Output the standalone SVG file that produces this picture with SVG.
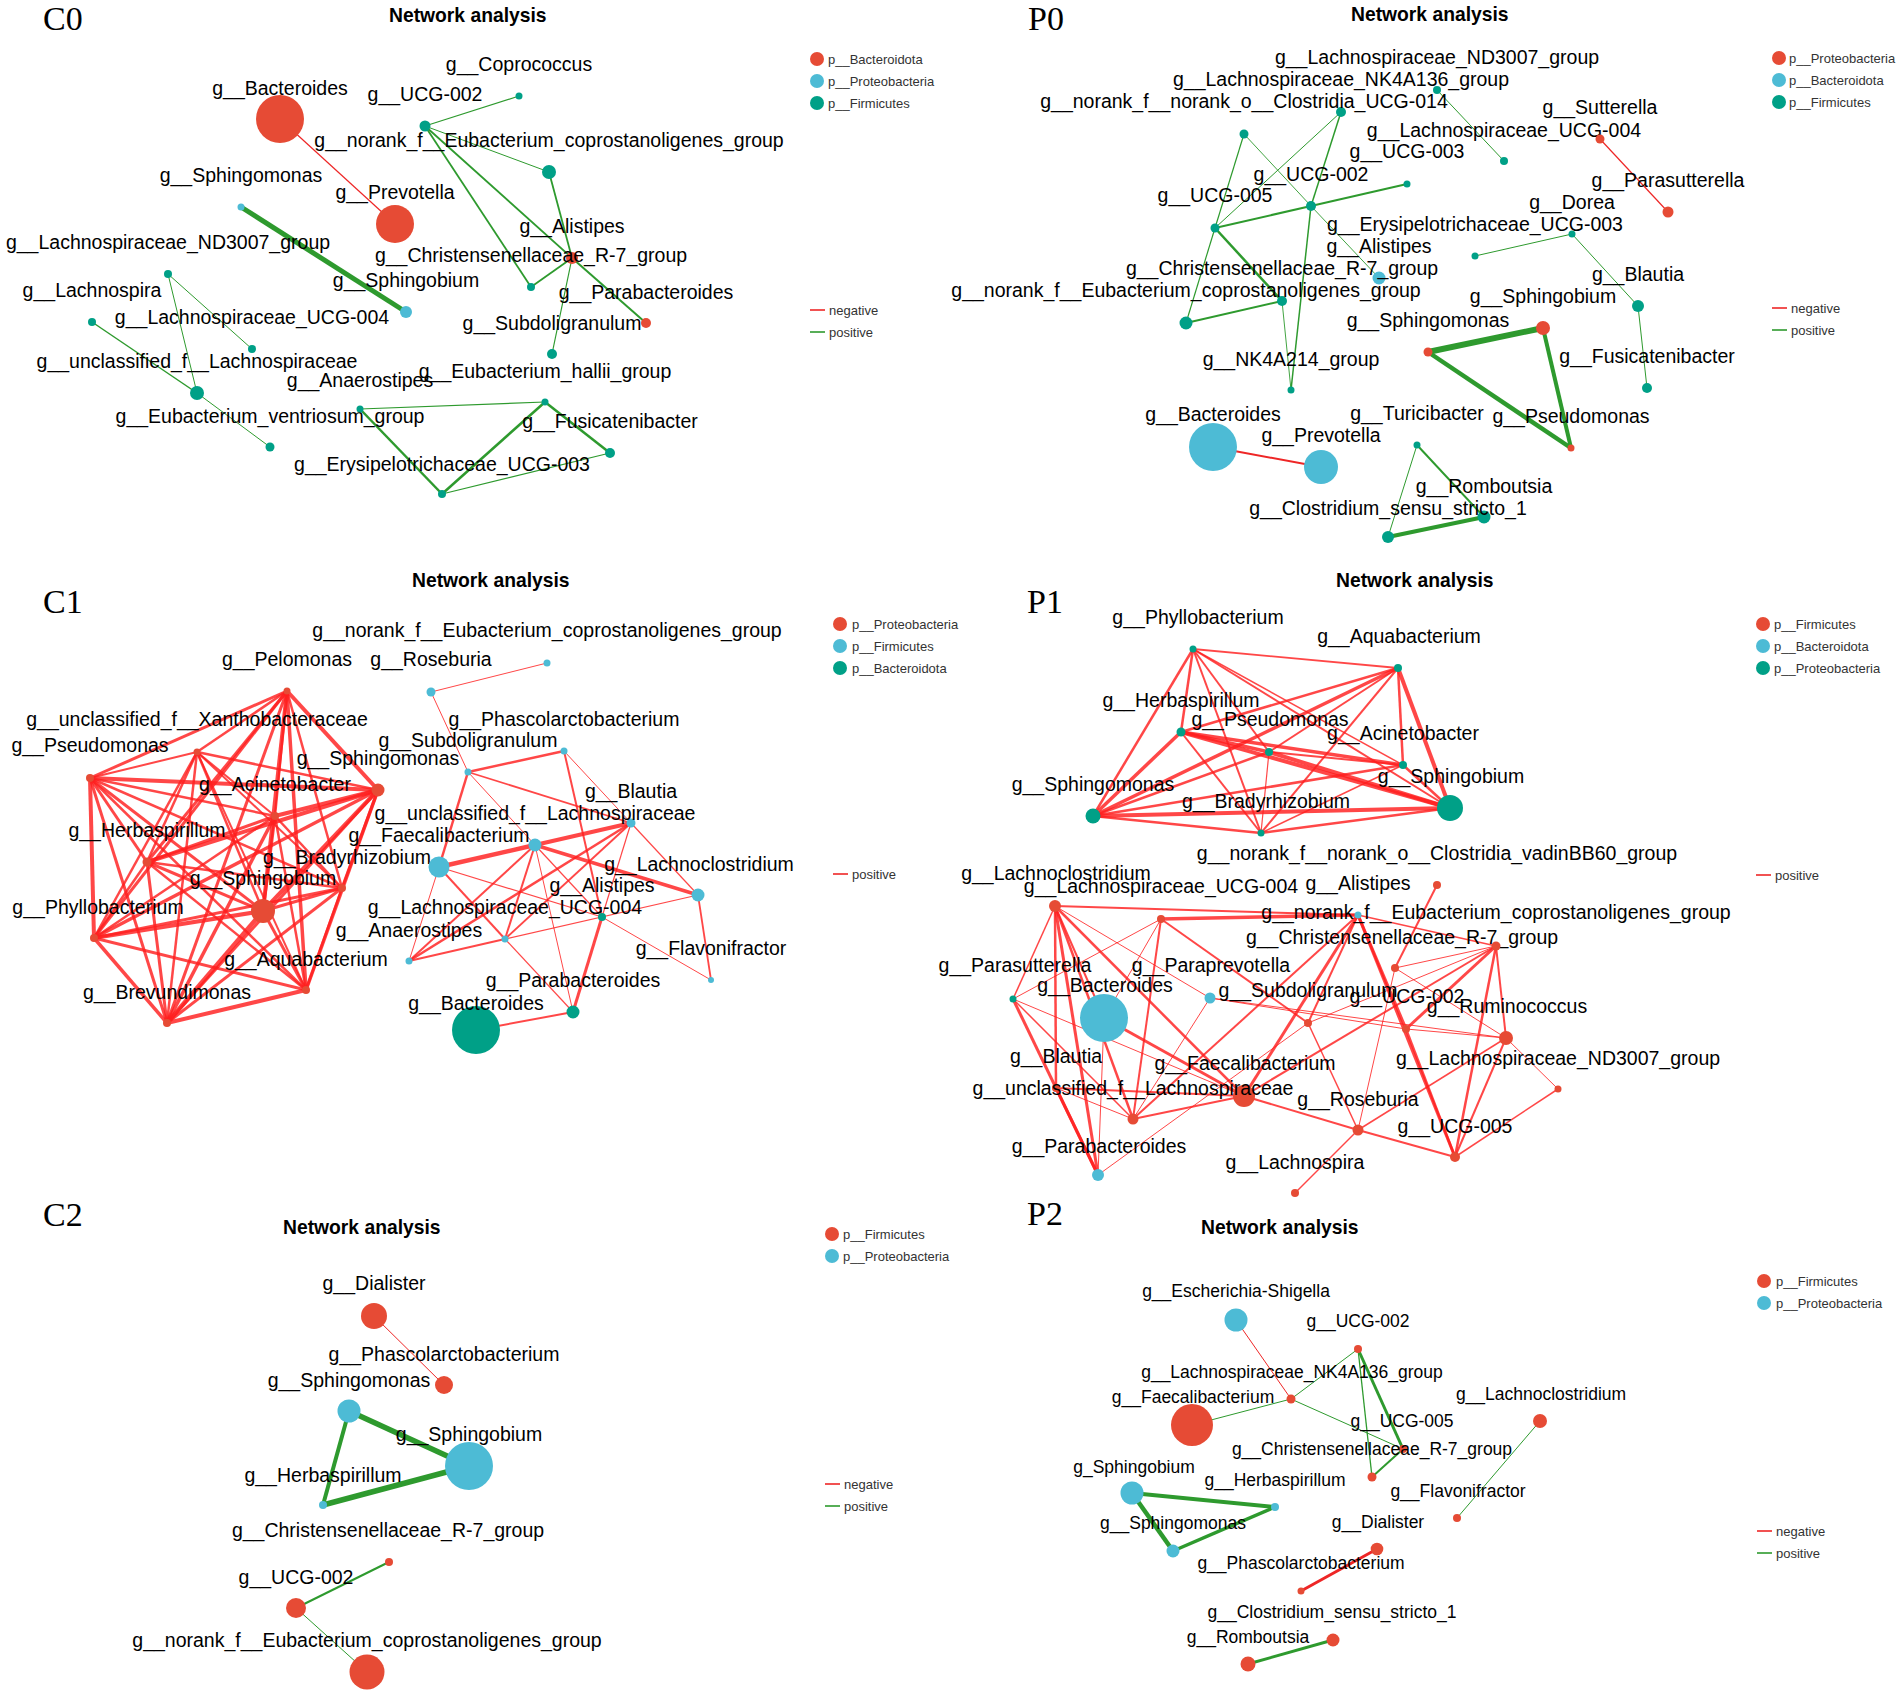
<svg xmlns="http://www.w3.org/2000/svg" width="1902" height="1696" viewBox="0 0 1902 1696">
<style>
.r{fill:#E64B35}.b{fill:#4DBBD5}.t{fill:#00A087}
.pos{stroke:#2E9A2E;fill:none}
.neg{stroke:#EE2626;fill:none}
.pr{stroke:#FF1E1E;stroke-opacity:0.82;fill:none}
text{font-family:"Liberation Sans",Arial,Helvetica,sans-serif;fill:#000}
.lb{font-size:19.5px;text-anchor:middle}
.lb2{font-size:17.5px;text-anchor:middle}
.ti{font-size:19.3px;font-weight:bold}
.pl{font-family:"Liberation Serif","Times New Roman",serif;font-size:34px}
.lg{font-size:13px;fill:#333}
.ll{stroke-width:1.6}
</style>
<rect width="1902" height="1696" fill="#fff"/>

<!-- ============ C0 ============ -->
<g id="C0">
<text class="pl" x="43" y="30">C0</text>
<text class="ti" x="389" y="22">Network analysis</text>
<g id="C0-connectors">
<line class="neg" x1="280" y1="119" x2="395" y2="224" stroke-width="1.2"/>
<line class="pos" x1="241" y1="207" x2="406" y2="312" stroke-width="5"/>
<line class="pos" x1="168" y1="274" x2="252" y2="349" stroke-width="1"/>
<line class="pos" x1="168" y1="274" x2="197" y2="393" stroke-width="1"/>
<line class="pos" x1="92" y1="322" x2="197" y2="393" stroke-width="1.5"/>
<line class="pos" x1="197" y1="393" x2="270" y2="447" stroke-width="1"/>
<line class="pos" x1="425" y1="126" x2="519" y2="96" stroke-width="1.2"/>
<line class="pos" x1="425" y1="126" x2="549" y2="172" stroke-width="1"/>
<line class="pos" x1="425" y1="126" x2="531" y2="287" stroke-width="1.8"/>
<line class="pos" x1="425" y1="126" x2="572" y2="258" stroke-width="1.8"/>
<line class="pos" x1="549" y1="172" x2="572" y2="258" stroke-width="1.8"/>
<line class="pos" x1="531" y1="287" x2="572" y2="258" stroke-width="1.8"/>
<line class="pos" x1="572" y1="258" x2="646" y2="323" stroke-width="2"/>
<line class="pos" x1="572" y1="258" x2="552" y2="354" stroke-width="1.2"/>
<line class="pos" x1="360" y1="409" x2="545" y2="402" stroke-width="1.2"/>
<line class="pos" x1="360" y1="409" x2="442" y2="494" stroke-width="2.5"/>
<line class="pos" x1="442" y1="494" x2="545" y2="402" stroke-width="2.5"/>
<line class="pos" x1="545" y1="402" x2="610" y2="453" stroke-width="2.5"/>
<line class="pos" x1="442" y1="494" x2="610" y2="453" stroke-width="1.2"/>
</g>
<g id="C0-Bacteroides"><circle class="r" cx="280" cy="119" r="24"/><text class="lb" x="280" y="95">g__Bacteroides</text></g>
<g id="C0-Prevotella"><circle class="r" cx="395" cy="224" r="19"/><text class="lb" x="395" y="199">g__Prevotella</text></g>
<g id="C0-Sphingomonas"><circle class="b" cx="241" cy="207" r="3.5"/><text class="lb" x="241" y="182">g__Sphingomonas</text></g>
<g id="C0-Sphingobium"><circle class="b" cx="406" cy="312" r="6"/><text class="lb" x="406" y="287">g__Sphingobium</text></g>
<g id="C0-ND3007"><circle class="t" cx="168" cy="274" r="4"/><text class="lb" x="168" y="249">g__Lachnospiraceae_ND3007_group</text></g>
<g id="C0-Lachnospira"><circle class="t" cx="92" cy="322" r="4"/><text class="lb" x="92" y="297">g__Lachnospira</text></g>
<g id="C0-UCG004"><circle class="t" cx="252" cy="349" r="4"/><text class="lb" x="252" y="324">g__Lachnospiraceae_UCG-004</text></g>
<g id="C0-unclassified"><circle class="t" cx="197" cy="393" r="7"/><text class="lb" x="197" y="368">g__unclassified_f__Lachnospiraceae</text></g>
<g id="C0-ventriosum"><circle class="t" cx="270" cy="447" r="4.5"/><text class="lb" x="270" y="423">g__Eubacterium_ventriosum_group</text></g>
<g id="C0-Anaerostipes"><circle class="t" cx="360" cy="409" r="3.5"/><text class="lb" x="360" y="387">g__Anaerostipes</text></g>
<g id="C0-Erysipelotrichaceae"><circle class="t" cx="442" cy="494" r="4"/><text class="lb" x="442" y="471">g__Erysipelotrichaceae_UCG-003</text></g>
<g id="C0-UCG002"><circle class="t" cx="425" cy="126" r="5.5"/><text class="lb" x="425" y="101">g__UCG-002</text></g>
<g id="C0-Coprococcus"><circle class="t" cx="519" cy="96" r="3.5"/><text class="lb" x="519" y="71">g__Coprococcus</text></g>
<g id="C0-norank"><circle class="t" cx="549" cy="172" r="7"/><text class="lb" x="549" y="147">g__norank_f__Eubacterium_coprostanoligenes_group</text></g>
<g id="C0-Alistipes"><circle class="r" cx="572" cy="258" r="6"/><text class="lb" x="572" y="233">g__Alistipes</text></g>
<g id="C0-Christensenellaceae"><circle class="t" cx="531" cy="287" r="4"/><text class="lb" x="531" y="262">g__Christensenellaceae_R-7_group</text></g>
<g id="C0-Parabacteroides"><circle class="r" cx="646" cy="323" r="5"/><text class="lb" x="646" y="299">g__Parabacteroides</text></g>
<g id="C0-Subdoligranulum"><circle class="t" cx="552" cy="354" r="5"/><text class="lb" x="552" y="330">g__Subdoligranulum</text></g>
<g id="C0-hallii"><circle class="t" cx="545" cy="402" r="3.5"/><text class="lb" x="545" y="378">g__Eubacterium_hallii_group</text></g>
<g id="C0-Fusicatenibacter"><circle class="t" cx="610" cy="453" r="5"/><text class="lb" x="610" y="428">g__Fusicatenibacter</text></g>
<g id="C0-legend">
<circle class="r" cx="817" cy="59" r="7"/><text class="lg" x="828" y="63.5">p__Bacteroidota</text>
<circle class="b" cx="817" cy="81" r="7"/><text class="lg" x="828" y="85.5">p__Proteobacteria</text>
<circle class="t" cx="817" cy="103" r="7"/><text class="lg" x="828" y="107.5">p__Firmicutes</text>
<line class="neg ll" x1="810" y1="310" x2="825" y2="310"/><text class="lg" x="829" y="314.5">negative</text>
<line class="pos ll" x1="810" y1="332" x2="825" y2="332"/><text class="lg" x="829" y="336.5">positive</text>
</g>
</g>

<!-- ============ P0 ============ -->
<g id="P0">
<text class="pl" x="1028" y="30">P0</text>
<text class="ti" x="1351" y="21">Network analysis</text>
<g id="P0-connectors">
<line class="pos" x1="1437" y1="90" x2="1504" y2="161" stroke-width="1"/>
<line class="pos" x1="1341" y1="112" x2="1215" y2="228" stroke-width="1"/>
<line class="pos" x1="1341" y1="112" x2="1311" y2="206" stroke-width="1.5"/>
<line class="pos" x1="1311" y1="206" x2="1291" y2="390" stroke-width="1.5"/>
<line class="pos" x1="1244" y1="134" x2="1215" y2="228" stroke-width="1.2"/>
<line class="pos" x1="1215" y1="228" x2="1186" y2="323" stroke-width="1.2"/>
<line class="pos" x1="1244" y1="134" x2="1311" y2="206" stroke-width="0.9"/>
<line class="pos" x1="1311" y1="206" x2="1379" y2="278" stroke-width="0.9"/>
<line class="pos" x1="1215" y1="228" x2="1311" y2="206" stroke-width="2"/>
<line class="pos" x1="1311" y1="206" x2="1407" y2="184" stroke-width="2"/>
<line class="pos" x1="1215" y1="228" x2="1282" y2="301" stroke-width="2.5"/>
<line class="pos" x1="1186" y1="323" x2="1282" y2="301" stroke-width="1.8"/>
<line class="pos" x1="1282" y1="301" x2="1291" y2="390" stroke-width="0.9"/>
<line class="neg" x1="1600" y1="139" x2="1668" y2="212" stroke-width="1.2"/>
<line class="pos" x1="1475" y1="256" x2="1572" y2="234" stroke-width="1"/>
<line class="pos" x1="1572" y1="234" x2="1638" y2="306" stroke-width="1"/>
<line class="pos" x1="1638" y1="306" x2="1647" y2="388" stroke-width="1"/>
<line class="pos" x1="1428" y1="352" x2="1543" y2="328" stroke-width="6"/>
<line class="pos" x1="1428" y1="352" x2="1571" y2="448" stroke-width="4.5"/>
<line class="pos" x1="1543" y1="328" x2="1571" y2="448" stroke-width="4"/>
<line class="pos" x1="1417" y1="445" x2="1484" y2="517" stroke-width="2"/>
<line class="pos" x1="1417" y1="445" x2="1388" y2="537" stroke-width="1"/>
<line class="pos" x1="1388" y1="537" x2="1484" y2="517" stroke-width="4"/>
<line class="neg" x1="1213" y1="447" x2="1321" y2="467" stroke-width="2"/>
</g>
<g id="P0-ND3007"><circle class="t" cx="1437" cy="90" r="4"/><text class="lb" x="1437" y="64">g__Lachnospiraceae_ND3007_group</text></g>
<g id="P0-NK4A136"><circle class="t" cx="1341" cy="112" r="5"/><text class="lb" x="1341" y="86">g__Lachnospiraceae_NK4A136_group</text></g>
<g id="P0-UCG014"><circle class="t" cx="1244" cy="134" r="4.5"/><text class="lb" x="1244" y="108">g__norank_f__norank_o__Clostridia_UCG-014</text></g>
<g id="P0-UCG004"><circle class="t" cx="1504" cy="161" r="4"/><text class="lb" x="1504" y="137">g__Lachnospiraceae_UCG-004</text></g>
<g id="P0-UCG003"><circle class="t" cx="1407" cy="184" r="3.5"/><text class="lb" x="1407" y="158">g__UCG-003</text></g>
<g id="P0-UCG002"><circle class="t" cx="1311" cy="206" r="5"/><text class="lb" x="1311" y="181">g__UCG-002</text></g>
<g id="P0-UCG005"><circle class="t" cx="1215" cy="228" r="4.5"/><text class="lb" x="1215" y="202">g__UCG-005</text></g>
<g id="P0-Erysipelotrichaceae"><circle class="t" cx="1475" cy="256" r="3.5"/><text class="lb" x="1475" y="231">g__Erysipelotrichaceae_UCG-003</text></g>
<g id="P0-Dorea"><circle class="t" cx="1572" cy="234" r="3.5"/><text class="lb" x="1572" y="209">g__Dorea</text></g>
<g id="P0-Alistipes"><circle class="b" cx="1379" cy="278" r="6.5"/><text class="lb" x="1379" y="253">g__Alistipes</text></g>
<g id="P0-Christensenellaceae"><circle class="t" cx="1282" cy="301" r="5"/><text class="lb" x="1282" y="275">g__Christensenellaceae_R-7_group</text></g>
<g id="P0-norank"><circle class="t" cx="1186" cy="323" r="6.5"/><text class="lb" x="1186" y="297">g__norank_f__Eubacterium_coprostanoligenes_group</text></g>
<g id="P0-NK4A214"><circle class="t" cx="1291" cy="390" r="3.5"/><text class="lb" x="1291" y="366">g__NK4A214_group</text></g>
<g id="P0-Sutterella"><circle class="r" cx="1600" cy="139" r="4.5"/><text class="lb" x="1600" y="114">g__Sutterella</text></g>
<g id="P0-Parasutterella"><circle class="r" cx="1668" cy="212" r="5.5"/><text class="lb" x="1668" y="187">g__Parasutterella</text></g>
<g id="P0-Blautia"><circle class="t" cx="1638" cy="306" r="6"/><text class="lb" x="1638" y="281">g__Blautia</text></g>
<g id="P0-Sphingobium"><circle class="r" cx="1543" cy="328" r="7"/><text class="lb" x="1543" y="303">g__Sphingobium</text></g>
<g id="P0-Sphingomonas"><circle class="r" cx="1428" cy="352" r="4.5"/><text class="lb" x="1428" y="327">g__Sphingomonas</text></g>
<g id="P0-Fusicatenibacter"><circle class="t" cx="1647" cy="388" r="5"/><text class="lb" x="1647" y="363">g__Fusicatenibacter</text></g>
<g id="P0-Pseudomonas"><circle class="r" cx="1571" cy="448" r="3.5"/><text class="lb" x="1571" y="423">g__Pseudomonas</text></g>
<g id="P0-Turicibacter"><circle class="t" cx="1417" cy="445" r="3.5"/><text class="lb" x="1417" y="420">g__Turicibacter</text></g>
<g id="P0-Romboutsia"><circle class="t" cx="1484" cy="517" r="6.5"/><text class="lb" x="1484" y="493">g__Romboutsia</text></g>
<g id="P0-Clostridium"><circle class="t" cx="1388" cy="537" r="6"/><text class="lb" x="1388" y="515">g__Clostridium_sensu_stricto_1</text></g>
<g id="P0-Bacteroides"><circle class="b" cx="1213" cy="447" r="24"/><text class="lb" x="1213" y="421">g__Bacteroides</text></g>
<g id="P0-Prevotella"><circle class="b" cx="1321" cy="467" r="17"/><text class="lb" x="1321" y="442">g__Prevotella</text></g>
<g id="P0-legend">
<circle class="r" cx="1779" cy="58" r="7"/><text class="lg" x="1789" y="62.5">p__Proteobacteria</text>
<circle class="b" cx="1779" cy="80" r="7"/><text class="lg" x="1789" y="84.5">p__Bacteroidota</text>
<circle class="t" cx="1779" cy="102" r="7"/><text class="lg" x="1789" y="106.5">p__Firmicutes</text>
<line class="neg ll" x1="1772" y1="308" x2="1787" y2="308"/><text class="lg" x="1791" y="312.5">negative</text>
<line class="pos ll" x1="1772" y1="330" x2="1787" y2="330"/><text class="lg" x="1791" y="334.5">positive</text>
</g>
</g>

<!-- ============ C1 ============ -->
<g id="C1">
<text class="pl" x="43" y="613">C1</text>
<text class="ti" x="412" y="587">Network analysis</text>
<g id="C1-connectors">
<line class="pr" x1="287" y1="691" x2="197" y2="752" stroke-width="2.5"/>
<line class="pr" x1="287" y1="691" x2="90" y2="778" stroke-width="3"/>
<line class="pr" x1="287" y1="691" x2="378" y2="790" stroke-width="4"/>
<line class="pr" x1="287" y1="691" x2="275" y2="816" stroke-width="2.5"/>
<line class="pr" x1="287" y1="691" x2="147" y2="862" stroke-width="3"/>
<line class="pr" x1="287" y1="691" x2="342" y2="888" stroke-width="2.5"/>
<line class="pr" x1="287" y1="691" x2="263" y2="911" stroke-width="4"/>
<line class="pr" x1="287" y1="691" x2="94" y2="938" stroke-width="3"/>
<line class="pr" x1="287" y1="691" x2="306" y2="990" stroke-width="3.5"/>
<line class="pr" x1="287" y1="691" x2="167" y2="1023" stroke-width="3"/>
<line class="pr" x1="197" y1="752" x2="90" y2="778" stroke-width="2"/>
<line class="pr" x1="197" y1="752" x2="378" y2="790" stroke-width="2.5"/>
<line class="pr" x1="197" y1="752" x2="275" y2="816" stroke-width="2"/>
<line class="pr" x1="197" y1="752" x2="147" y2="862" stroke-width="2.5"/>
<line class="pr" x1="197" y1="752" x2="342" y2="888" stroke-width="2"/>
<line class="pr" x1="197" y1="752" x2="263" y2="911" stroke-width="2.5"/>
<line class="pr" x1="197" y1="752" x2="94" y2="938" stroke-width="2.5"/>
<line class="pr" x1="197" y1="752" x2="306" y2="990" stroke-width="2"/>
<line class="pr" x1="197" y1="752" x2="167" y2="1023" stroke-width="2.5"/>
<line class="pr" x1="90" y1="778" x2="378" y2="790" stroke-width="4"/>
<line class="pr" x1="90" y1="778" x2="275" y2="816" stroke-width="2.5"/>
<line class="pr" x1="90" y1="778" x2="147" y2="862" stroke-width="3"/>
<line class="pr" x1="90" y1="778" x2="342" y2="888" stroke-width="2.5"/>
<line class="pr" x1="90" y1="778" x2="263" y2="911" stroke-width="3"/>
<line class="pr" x1="90" y1="778" x2="94" y2="938" stroke-width="4"/>
<line class="pr" x1="90" y1="778" x2="306" y2="990" stroke-width="2.5"/>
<line class="pr" x1="90" y1="778" x2="167" y2="1023" stroke-width="3"/>
<line class="pr" x1="378" y1="790" x2="275" y2="816" stroke-width="4"/>
<line class="pr" x1="378" y1="790" x2="147" y2="862" stroke-width="4"/>
<line class="pr" x1="378" y1="790" x2="342" y2="888" stroke-width="3"/>
<line class="pr" x1="378" y1="790" x2="263" y2="911" stroke-width="4"/>
<line class="pr" x1="378" y1="790" x2="94" y2="938" stroke-width="3.5"/>
<line class="pr" x1="378" y1="790" x2="306" y2="990" stroke-width="3.5"/>
<line class="pr" x1="378" y1="790" x2="167" y2="1023" stroke-width="3"/>
<line class="pr" x1="275" y1="816" x2="147" y2="862" stroke-width="3"/>
<line class="pr" x1="275" y1="816" x2="342" y2="888" stroke-width="2.5"/>
<line class="pr" x1="275" y1="816" x2="263" y2="911" stroke-width="3"/>
<line class="pr" x1="275" y1="816" x2="94" y2="938" stroke-width="2.5"/>
<line class="pr" x1="275" y1="816" x2="306" y2="990" stroke-width="2.5"/>
<line class="pr" x1="275" y1="816" x2="167" y2="1023" stroke-width="3.5"/>
<line class="pr" x1="147" y1="862" x2="342" y2="888" stroke-width="2.5"/>
<line class="pr" x1="147" y1="862" x2="263" y2="911" stroke-width="3"/>
<line class="pr" x1="147" y1="862" x2="94" y2="938" stroke-width="2.5"/>
<line class="pr" x1="147" y1="862" x2="306" y2="990" stroke-width="2.5"/>
<line class="pr" x1="147" y1="862" x2="167" y2="1023" stroke-width="3"/>
<line class="pr" x1="342" y1="888" x2="263" y2="911" stroke-width="3"/>
<line class="pr" x1="342" y1="888" x2="94" y2="938" stroke-width="3"/>
<line class="pr" x1="342" y1="888" x2="306" y2="990" stroke-width="2.5"/>
<line class="pr" x1="342" y1="888" x2="167" y2="1023" stroke-width="3"/>
<line class="pr" x1="263" y1="911" x2="94" y2="938" stroke-width="4"/>
<line class="pr" x1="263" y1="911" x2="306" y2="990" stroke-width="3"/>
<line class="pr" x1="263" y1="911" x2="167" y2="1023" stroke-width="4.5"/>
<line class="pr" x1="94" y1="938" x2="306" y2="990" stroke-width="3"/>
<line class="pr" x1="94" y1="938" x2="167" y2="1023" stroke-width="3.5"/>
<line class="pr" x1="306" y1="990" x2="167" y2="1023" stroke-width="4"/>
<line class="pr" x1="431" y1="692" x2="547" y2="663" stroke-width="1"/>
<line class="pr" x1="431" y1="692" x2="468" y2="772" stroke-width="1"/>
<line class="pr" x1="468" y1="772" x2="564" y2="751" stroke-width="2.5"/>
<line class="pr" x1="468" y1="772" x2="439" y2="867" stroke-width="2.5"/>
<line class="pr" x1="468" y1="772" x2="631" y2="823" stroke-width="1.8"/>
<line class="pr" x1="468" y1="772" x2="535" y2="845" stroke-width="1"/>
<line class="pr" x1="564" y1="751" x2="602" y2="917" stroke-width="2"/>
<line class="pr" x1="564" y1="751" x2="631" y2="823" stroke-width="1"/>
<line class="pr" x1="439" y1="867" x2="535" y2="845" stroke-width="4.5"/>
<line class="pr" x1="535" y1="845" x2="631" y2="823" stroke-width="4"/>
<line class="pr" x1="535" y1="845" x2="698" y2="895" stroke-width="3.5"/>
<line class="pr" x1="631" y1="823" x2="409" y2="961" stroke-width="2.5"/>
<line class="pr" x1="631" y1="823" x2="505" y2="939" stroke-width="2"/>
<line class="pr" x1="631" y1="823" x2="698" y2="895" stroke-width="1.2"/>
<line class="pr" x1="631" y1="823" x2="602" y2="917" stroke-width="1.2"/>
<line class="pr" x1="535" y1="845" x2="409" y2="961" stroke-width="2"/>
<line class="pr" x1="535" y1="845" x2="505" y2="939" stroke-width="2"/>
<line class="pr" x1="535" y1="845" x2="602" y2="917" stroke-width="1.2"/>
<line class="pr" x1="535" y1="845" x2="573" y2="1012" stroke-width="1"/>
<line class="pr" x1="439" y1="867" x2="409" y2="961" stroke-width="1"/>
<line class="pr" x1="439" y1="867" x2="602" y2="917" stroke-width="1.2"/>
<line class="pr" x1="439" y1="867" x2="505" y2="939" stroke-width="2"/>
<line class="pr" x1="409" y1="961" x2="505" y2="939" stroke-width="2"/>
<line class="pr" x1="505" y1="939" x2="698" y2="895" stroke-width="1.2"/>
<line class="pr" x1="505" y1="939" x2="573" y2="1012" stroke-width="1.2"/>
<line class="pr" x1="602" y1="917" x2="573" y2="1012" stroke-width="3"/>
<line class="pr" x1="602" y1="917" x2="711" y2="980" stroke-width="1"/>
<line class="pr" x1="698" y1="895" x2="711" y2="980" stroke-width="1.8"/>
<line class="pr" x1="573" y1="1012" x2="476" y2="1030" stroke-width="2"/>
</g>
<g id="C1-Pelomonas"><circle class="r" cx="287" cy="691" r="3.5"/><text class="lb" x="287" y="666">g__Pelomonas</text></g>
<g id="C1-Xanthobacteraceae"><circle class="r" cx="197" cy="752" r="3.5"/><text class="lb" x="197" y="726">g__unclassified_f__Xanthobacteraceae</text></g>
<g id="C1-Pseudomonas"><circle class="r" cx="90" cy="778" r="4"/><text class="lb" x="90" y="752">g__Pseudomonas</text></g>
<g id="C1-Sphingomonas"><circle class="r" cx="378" cy="790" r="6.5"/><text class="lb" x="378" y="765">g__Sphingomonas</text></g>
<g id="C1-Acinetobacter"><circle class="r" cx="275" cy="816" r="4"/><text class="lb" x="275" y="791">g__Acinetobacter</text></g>
<g id="C1-Herbaspirillum"><circle class="r" cx="147" cy="862" r="4.5"/><text class="lb" x="147" y="837">g__Herbaspirillum</text></g>
<g id="C1-Bradyrhizobium"><circle class="r" cx="342" cy="888" r="4"/><text class="lb" x="347" y="864">g__Bradyrhizobium</text></g>
<g id="C1-Sphingobium"><circle class="r" cx="263" cy="911" r="12"/><text class="lb" x="263" y="885">g__Sphingobium</text></g>
<g id="C1-Phyllobacterium"><circle class="r" cx="94" cy="938" r="4"/><text class="lb" x="98" y="914">g__Phyllobacterium</text></g>
<g id="C1-Aquabacterium"><circle class="r" cx="306" cy="990" r="4"/><text class="lb" x="306" y="966">g__Aquabacterium</text></g>
<g id="C1-Brevundimonas"><circle class="r" cx="167" cy="1023" r="4"/><text class="lb" x="167" y="999">g__Brevundimonas</text></g>
<g id="C1-Roseburia"><circle class="b" cx="431" cy="692" r="4.5"/><text class="lb" x="431" y="666">g__Roseburia</text></g>
<g id="C1-norank"><circle class="b" cx="547" cy="663" r="3.5"/><text class="lb" x="547" y="637">g__norank_f__Eubacterium_coprostanoligenes_group</text></g>
<g id="C1-Subdoligranulum"><circle class="b" cx="468" cy="772" r="3.5"/><text class="lb" x="468" y="747">g__Subdoligranulum</text></g>
<g id="C1-Phascolarctobacterium"><circle class="b" cx="564" cy="751" r="3.5"/><text class="lb" x="564" y="726">g__Phascolarctobacterium</text></g>
<g id="C1-Blautia"><circle class="b" cx="631" cy="823" r="4.5"/><text class="lb" x="631" y="798">g__Blautia</text></g>
<g id="C1-unclassified"><circle class="b" cx="535" cy="845" r="6.5"/><text class="lb" x="535" y="820">g__unclassified_f__Lachnospiraceae</text></g>
<g id="C1-Faecalibacterium"><circle class="b" cx="439" cy="867" r="10.5"/><text class="lb" x="439" y="842">g__Faecalibacterium</text></g>
<g id="C1-Lachnoclostridium"><circle class="b" cx="698" cy="895" r="6.5"/><text class="lb" x="699" y="871">g__Lachnoclostridium</text></g>
<g id="C1-Alistipes"><circle class="t" cx="602" cy="917" r="4"/><text class="lb" x="602" y="892">g__Alistipes</text></g>
<g id="C1-UCG004"><circle class="b" cx="505" cy="939" r="3.5"/><text class="lb" x="505" y="914">g__Lachnospiraceae_UCG-004</text></g>
<g id="C1-Anaerostipes"><circle class="b" cx="409" cy="961" r="3.5"/><text class="lb" x="409" y="937">g__Anaerostipes</text></g>
<g id="C1-Flavonifractor"><circle class="b" cx="711" cy="980" r="3"/><text class="lb" x="711" y="955">g__Flavonifractor</text></g>
<g id="C1-Parabacteroides"><circle class="t" cx="573" cy="1012" r="6.5"/><text class="lb" x="573" y="987">g__Parabacteroides</text></g>
<g id="C1-Bacteroides"><circle class="t" cx="476" cy="1030" r="24"/><text class="lb" x="476" y="1010">g__Bacteroides</text></g>
<g id="C1-legend">
<circle class="r" cx="840" cy="624" r="7"/><text class="lg" x="852" y="628.5">p__Proteobacteria</text>
<circle class="b" cx="840" cy="646" r="7"/><text class="lg" x="852" y="650.5">p__Firmicutes</text>
<circle class="t" cx="840" cy="668" r="7"/><text class="lg" x="852" y="672.5">p__Bacteroidota</text>
<line class="neg ll" x1="833" y1="874" x2="848" y2="874"/><text class="lg" x="852" y="878.5">positive</text>
</g>
</g>

<!-- ============ P1 ============ -->
<g id="P1">
<text class="pl" x="1027" y="613">P1</text>
<text class="ti" x="1336" y="587">Network analysis</text>
<g id="P1-connectors">
<line class="pr" x1="1193" y1="649" x2="1398" y2="668" stroke-width="1.8"/>
<line class="pr" x1="1193" y1="649" x2="1181" y2="732" stroke-width="2.5"/>
<line class="pr" x1="1193" y1="649" x2="1269" y2="752" stroke-width="2"/>
<line class="pr" x1="1193" y1="649" x2="1403" y2="765" stroke-width="1.5"/>
<line class="pr" x1="1193" y1="649" x2="1093" y2="816" stroke-width="2.5"/>
<line class="pr" x1="1193" y1="649" x2="1450" y2="808" stroke-width="2"/>
<line class="pr" x1="1193" y1="649" x2="1261" y2="833" stroke-width="2"/>
<line class="pr" x1="1398" y1="668" x2="1181" y2="732" stroke-width="2.5"/>
<line class="pr" x1="1398" y1="668" x2="1269" y2="752" stroke-width="2"/>
<line class="pr" x1="1398" y1="668" x2="1403" y2="765" stroke-width="2.5"/>
<line class="pr" x1="1398" y1="668" x2="1093" y2="816" stroke-width="3.5"/>
<line class="pr" x1="1398" y1="668" x2="1450" y2="808" stroke-width="4"/>
<line class="pr" x1="1398" y1="668" x2="1261" y2="833" stroke-width="2"/>
<line class="pr" x1="1181" y1="732" x2="1269" y2="752" stroke-width="3.5"/>
<line class="pr" x1="1181" y1="732" x2="1403" y2="765" stroke-width="3.5"/>
<line class="pr" x1="1181" y1="732" x2="1093" y2="816" stroke-width="3.5"/>
<line class="pr" x1="1181" y1="732" x2="1450" y2="808" stroke-width="4"/>
<line class="pr" x1="1181" y1="732" x2="1261" y2="833" stroke-width="2"/>
<line class="pr" x1="1269" y1="752" x2="1403" y2="765" stroke-width="2"/>
<line class="pr" x1="1269" y1="752" x2="1093" y2="816" stroke-width="2.5"/>
<line class="pr" x1="1269" y1="752" x2="1450" y2="808" stroke-width="4"/>
<line class="pr" x1="1269" y1="752" x2="1261" y2="833" stroke-width="1.2"/>
<line class="pr" x1="1403" y1="765" x2="1093" y2="816" stroke-width="2.5"/>
<line class="pr" x1="1403" y1="765" x2="1450" y2="808" stroke-width="2.5"/>
<line class="pr" x1="1403" y1="765" x2="1261" y2="833" stroke-width="1.5"/>
<line class="pr" x1="1093" y1="816" x2="1450" y2="808" stroke-width="4"/>
<line class="pr" x1="1093" y1="816" x2="1261" y2="833" stroke-width="2.5"/>
<line class="pr" x1="1450" y1="808" x2="1261" y2="833" stroke-width="2.5"/>
<line class="pr" x1="1055" y1="906" x2="1358" y2="915" stroke-width="2"/>
<line class="pr" x1="1161" y1="919" x2="1358" y2="915" stroke-width="3.5"/>
<line class="pr" x1="1055" y1="906" x2="1013" y2="999" stroke-width="1.5"/>
<line class="pr" x1="1055" y1="906" x2="1104" y2="1018" stroke-width="2"/>
<line class="pr" x1="1055" y1="906" x2="1056" y2="1088" stroke-width="2.5"/>
<line class="pr" x1="1055" y1="906" x2="1098" y2="1175" stroke-width="3"/>
<line class="pr" x1="1055" y1="906" x2="1133" y2="1119" stroke-width="2.5"/>
<line class="pr" x1="1055" y1="906" x2="1244" y2="1096" stroke-width="2.5"/>
<line class="pr" x1="1055" y1="906" x2="1210" y2="998" stroke-width="1"/>
<line class="pr" x1="1161" y1="919" x2="1104" y2="1018" stroke-width="1"/>
<line class="pr" x1="1161" y1="919" x2="1133" y2="1119" stroke-width="2"/>
<line class="pr" x1="1161" y1="919" x2="1308" y2="1023" stroke-width="2"/>
<line class="pr" x1="1161" y1="919" x2="1013" y2="999" stroke-width="1"/>
<line class="pr" x1="1013" y1="999" x2="1098" y2="1175" stroke-width="3"/>
<line class="pr" x1="1013" y1="999" x2="1244" y2="1096" stroke-width="1"/>
<line class="pr" x1="1013" y1="999" x2="1133" y2="1119" stroke-width="1.5"/>
<line class="pr" x1="1104" y1="1018" x2="1244" y2="1096" stroke-width="3"/>
<line class="pr" x1="1104" y1="1018" x2="1098" y2="1175" stroke-width="1"/>
<line class="pr" x1="1210" y1="998" x2="1406" y2="1029" stroke-width="1"/>
<line class="pr" x1="1210" y1="998" x2="1506" y2="1038" stroke-width="1"/>
<line class="pr" x1="1210" y1="998" x2="1133" y2="1119" stroke-width="1"/>
<line class="pr" x1="1358" y1="915" x2="1244" y2="1096" stroke-width="3"/>
<line class="pr" x1="1358" y1="915" x2="1133" y2="1119" stroke-width="2"/>
<line class="pr" x1="1358" y1="915" x2="1308" y2="1023" stroke-width="2"/>
<line class="pr" x1="1358" y1="915" x2="1406" y2="1029" stroke-width="3"/>
<line class="pr" x1="1358" y1="915" x2="1496" y2="946" stroke-width="1.5"/>
<line class="pr" x1="1358" y1="915" x2="1455" y2="1157" stroke-width="3"/>
<line class="pr" x1="1437" y1="885" x2="1395" y2="968" stroke-width="2"/>
<line class="pr" x1="1395" y1="968" x2="1506" y2="1038" stroke-width="1"/>
<line class="pr" x1="1395" y1="968" x2="1496" y2="946" stroke-width="1"/>
<line class="pr" x1="1395" y1="968" x2="1358" y2="1130" stroke-width="1"/>
<line class="pr" x1="1496" y1="946" x2="1406" y2="1029" stroke-width="3"/>
<line class="pr" x1="1496" y1="946" x2="1308" y2="1023" stroke-width="1"/>
<line class="pr" x1="1496" y1="946" x2="1506" y2="1038" stroke-width="2"/>
<line class="pr" x1="1496" y1="946" x2="1455" y2="1157" stroke-width="2.5"/>
<line class="pr" x1="1496" y1="946" x2="1244" y2="1096" stroke-width="2"/>
<line class="pr" x1="1406" y1="1029" x2="1506" y2="1038" stroke-width="1"/>
<line class="pr" x1="1406" y1="1029" x2="1455" y2="1157" stroke-width="2.5"/>
<line class="pr" x1="1506" y1="1038" x2="1558" y2="1089" stroke-width="1"/>
<line class="pr" x1="1506" y1="1038" x2="1455" y2="1157" stroke-width="2"/>
<line class="pr" x1="1506" y1="1038" x2="1358" y2="1130" stroke-width="1.5"/>
<line class="pr" x1="1558" y1="1089" x2="1455" y2="1157" stroke-width="1.5"/>
<line class="pr" x1="1358" y1="1130" x2="1455" y2="1157" stroke-width="2"/>
<line class="pr" x1="1358" y1="1130" x2="1244" y2="1096" stroke-width="2"/>
<line class="pr" x1="1358" y1="1130" x2="1295" y2="1193" stroke-width="1.5"/>
<line class="pr" x1="1358" y1="1130" x2="1308" y2="1023" stroke-width="1.5"/>
<line class="pr" x1="1244" y1="1096" x2="1133" y2="1119" stroke-width="2"/>
<line class="pr" x1="1244" y1="1096" x2="1056" y2="1088" stroke-width="2"/>
<line class="pr" x1="1056" y1="1088" x2="1098" y2="1175" stroke-width="3"/>
<line class="pr" x1="1056" y1="1088" x2="1133" y2="1119" stroke-width="1"/>
<line class="pr" x1="1308" y1="1023" x2="1098" y2="1175" stroke-width="1"/>
</g>
<g id="P1-Phyllobacterium"><circle class="t" cx="1193" cy="649" r="3.5"/><text class="lb" x="1198" y="624">g__Phyllobacterium</text></g>
<g id="P1-Aquabacterium"><circle class="t" cx="1398" cy="668" r="4"/><text class="lb" x="1399" y="643">g__Aquabacterium</text></g>
<g id="P1-Herbaspirillum"><circle class="t" cx="1181" cy="732" r="4.5"/><text class="lb" x="1181" y="707">g__Herbaspirillum</text></g>
<g id="P1-Pseudomonas"><circle class="t" cx="1269" cy="752" r="4"/><text class="lb" x="1270" y="726">g__Pseudomonas</text></g>
<g id="P1-Acinetobacter"><circle class="t" cx="1403" cy="765" r="4"/><text class="lb" x="1403" y="740">g__Acinetobacter</text></g>
<g id="P1-Sphingomonas"><circle class="t" cx="1093" cy="816" r="7.5"/><text class="lb" x="1093" y="791">g__Sphingomonas</text></g>
<g id="P1-Sphingobium"><circle class="t" cx="1450" cy="808" r="13"/><text class="lb" x="1451" y="783">g__Sphingobium</text></g>
<g id="P1-Bradyrhizobium"><circle class="t" cx="1261" cy="833" r="3.5"/><text class="lb" x="1266" y="808">g__Bradyrhizobium</text></g>
<g id="P1-Lachnoclostridium"><circle class="r" cx="1055" cy="906" r="6"/><text class="lb" x="1056" y="880">g__Lachnoclostridium</text></g>
<g id="P1-UCG004"><circle class="r" cx="1161" cy="919" r="4"/><text class="lb" x="1161" y="893">g__Lachnospiraceae_UCG-004</text></g>
<g id="P1-vadinBB60"><circle class="r" cx="1437" cy="885" r="4"/><text class="lb" x="1437" y="860">g__norank_f__norank_o__Clostridia_vadinBB60_group</text></g>
<g id="P1-Alistipes"><circle class="b" cx="1358" cy="915" r="3.5"/><text class="lb" x="1358" y="890">g__Alistipes</text></g>
<g id="P1-Christensenellaceae"><circle class="r" cx="1395" cy="968" r="4"/><text class="lb" x="1402" y="944">g__Christensenellaceae_R-7_group</text></g>
<g id="P1-norank"><circle class="r" cx="1496" cy="946" r="4.5"/><text class="lb" x="1496" y="919">g__norank_f__Eubacterium_coprostanoligenes_group</text></g>
<g id="P1-Parasutterella"><circle class="t" cx="1013" cy="999" r="3.5"/><text class="lb" x="1015" y="972">g__Parasutterella</text></g>
<g id="P1-Bacteroides"><circle class="b" cx="1104" cy="1018" r="24"/><text class="lb" x="1105" y="992">g__Bacteroides</text></g>
<g id="P1-Paraprevotella"><circle class="b" cx="1210" cy="998" r="5.5"/><text class="lb" x="1211" y="972">g__Paraprevotella</text></g>
<g id="P1-Subdoligranulum"><circle class="r" cx="1308" cy="1023" r="4"/><text class="lb" x="1308" y="997">g__Subdoligranulum</text></g>
<g id="P1-UCG002"><circle class="r" cx="1406" cy="1029" r="4"/><text class="lb" x="1407" y="1003">g__UCG-002</text></g>
<g id="P1-Ruminococcus"><circle class="r" cx="1506" cy="1038" r="7"/><text class="lb" x="1507" y="1013">g__Ruminococcus</text></g>
<g id="P1-Blautia"><circle class="r" cx="1056" cy="1088" r="4"/><text class="lb" x="1056" y="1063">g__Blautia</text></g>
<g id="P1-Faecalibacterium"><circle class="r" cx="1244" cy="1096" r="11"/><text class="lb" x="1245" y="1070">g__Faecalibacterium</text></g>
<g id="P1-unclassified"><circle class="r" cx="1133" cy="1119" r="5.5"/><text class="lb" x="1133" y="1095">g__unclassified_f__Lachnospiraceae</text></g>
<g id="P1-Roseburia"><circle class="r" cx="1358" cy="1130" r="5.5"/><text class="lb" x="1358" y="1106">g__Roseburia</text></g>
<g id="P1-Parabacteroides"><circle class="b" cx="1098" cy="1175" r="6"/><text class="lb" x="1099" y="1153">g__Parabacteroides</text></g>
<g id="P1-UCG005"><circle class="r" cx="1455" cy="1157" r="5"/><text class="lb" x="1455" y="1133">g__UCG-005</text></g>
<g id="P1-ND3007"><circle class="r" cx="1558" cy="1089" r="3.5"/><text class="lb" x="1558" y="1065">g__Lachnospiraceae_ND3007_group</text></g>
<g id="P1-Lachnospira"><circle class="r" cx="1295" cy="1193" r="4"/><text class="lb" x="1295" y="1169">g__Lachnospira</text></g>
<g id="P1-legend">
<circle class="r" cx="1763" cy="624" r="7"/><text class="lg" x="1774" y="628.5">p__Firmicutes</text>
<circle class="b" cx="1763" cy="646" r="7"/><text class="lg" x="1774" y="650.5">p__Bacteroidota</text>
<circle class="t" cx="1763" cy="668" r="7"/><text class="lg" x="1774" y="672.5">p__Proteobacteria</text>
<line class="neg ll" x1="1756" y1="875" x2="1771" y2="875"/><text class="lg" x="1775" y="879.5">positive</text>
</g>
</g>

<!-- ============ C2 ============ -->
<g id="C2">
<text class="pl" x="43" y="1226">C2</text>
<text class="ti" x="283" y="1234">Network analysis</text>
<g id="C2-connectors">
<line class="neg" x1="374" y1="1316" x2="444" y2="1385" stroke-width="1"/>
<line class="pos" x1="349" y1="1411" x2="469" y2="1466" stroke-width="5.5"/>
<line class="pos" x1="469" y1="1466" x2="323" y2="1505" stroke-width="5.5"/>
<line class="pos" x1="349" y1="1411" x2="323" y2="1505" stroke-width="4"/>
<line class="pos" x1="389" y1="1562" x2="296" y2="1608" stroke-width="2"/>
<line class="pos" x1="296" y1="1608" x2="367" y2="1672" stroke-width="1"/>
</g>
<g id="C2-Dialister"><circle class="r" cx="374" cy="1316" r="13"/><text class="lb" x="374" y="1290">g__Dialister</text></g>
<g id="C2-Phascolarctobacterium"><circle class="r" cx="444" cy="1385" r="9"/><text class="lb" x="444" y="1361">g__Phascolarctobacterium</text></g>
<g id="C2-Sphingomonas"><circle class="b" cx="349" cy="1411" r="11.5"/><text class="lb" x="349" y="1387">g__Sphingomonas</text></g>
<g id="C2-Sphingobium"><circle class="b" cx="469" cy="1466" r="24"/><text class="lb" x="469" y="1441">g__Sphingobium</text></g>
<g id="C2-Herbaspirillum"><circle class="b" cx="323" cy="1505" r="4"/><text class="lb" x="323" y="1482">g__Herbaspirillum</text></g>
<g id="C2-Christensenellaceae"><circle class="r" cx="389" cy="1562" r="4"/><text class="lb" x="388" y="1537">g__Christensenellaceae_R-7_group</text></g>
<g id="C2-UCG002"><circle class="r" cx="296" cy="1608" r="10"/><text class="lb" x="296" y="1584">g__UCG-002</text></g>
<g id="C2-norank"><circle class="r" cx="367" cy="1672" r="17.5"/><text class="lb" x="367" y="1647">g__norank_f__Eubacterium_coprostanoligenes_group</text></g>
<g id="C2-legend">
<circle class="r" cx="832" cy="1234" r="7"/><text class="lg" x="843" y="1238.5">p__Firmicutes</text>
<circle class="b" cx="832" cy="1256" r="7"/><text class="lg" x="843" y="1260.5">p__Proteobacteria</text>
<line class="neg ll" x1="825" y1="1484" x2="840" y2="1484"/><text class="lg" x="844" y="1488.5">negative</text>
<line class="pos ll" x1="825" y1="1506" x2="840" y2="1506"/><text class="lg" x="844" y="1510.5">positive</text>
</g>
</g>

<!-- ============ P2 ============ -->
<g id="P2">
<text class="pl" x="1027" y="1225">P2</text>
<text class="ti" x="1201" y="1234">Network analysis</text>
<g id="P2-connectors">
<line class="neg" x1="1236" y1="1320" x2="1291" y2="1399" stroke-width="1"/>
<line class="pos" x1="1291" y1="1399" x2="1192" y2="1425" stroke-width="1"/>
<line class="pos" x1="1291" y1="1399" x2="1358" y2="1349" stroke-width="1"/>
<line class="pos" x1="1291" y1="1399" x2="1403" y2="1449" stroke-width="1"/>
<line class="pos" x1="1358" y1="1349" x2="1403" y2="1449" stroke-width="3"/>
<line class="pos" x1="1358" y1="1349" x2="1372" y2="1477" stroke-width="1.3"/>
<line class="pos" x1="1403" y1="1449" x2="1372" y2="1477" stroke-width="2"/>
<line class="pos" x1="1540" y1="1421" x2="1457" y2="1518" stroke-width="1"/>
<line class="pos" x1="1132" y1="1493" x2="1275" y2="1507" stroke-width="4"/>
<line class="pos" x1="1132" y1="1493" x2="1173" y2="1551" stroke-width="4.5"/>
<line class="pos" x1="1275" y1="1507" x2="1173" y2="1551" stroke-width="3.5"/>
<line class="neg" x1="1377" y1="1549" x2="1301" y2="1591" stroke-width="3"/>
<line class="pos" x1="1333" y1="1640" x2="1248" y2="1664" stroke-width="3"/>
</g>
<g id="P2-Escherichia"><circle class="b" cx="1236" cy="1320" r="11.5"/><text class="lb2" x="1236" y="1297">g__Escherichia-Shigella</text></g>
<g id="P2-UCG002"><circle class="r" cx="1358" cy="1349" r="4"/><text class="lb2" x="1358" y="1327">g__UCG-002</text></g>
<g id="P2-NK4A136"><circle class="r" cx="1291" cy="1399" r="4.5"/><text class="lb2" x="1292" y="1378">g__Lachnospiraceae_NK4A136_group</text></g>
<g id="P2-Faecalibacterium"><circle class="r" cx="1192" cy="1425" r="21"/><text class="lb2" x="1193" y="1403">g__Faecalibacterium</text></g>
<g id="P2-Lachnoclostridium"><circle class="r" cx="1540" cy="1421" r="7"/><text class="lb2" x="1541" y="1400">g__Lachnoclostridium</text></g>
<g id="P2-UCG005"><circle class="r" cx="1403" cy="1449" r="4"/><text class="lb2" x="1402" y="1427">g__UCG-005</text></g>
<g id="P2-Christensenellaceae"><circle class="r" cx="1372" cy="1477" r="4.5"/><text class="lb2" x="1372" y="1455">g__Christensenellaceae_R-7_group</text></g>
<g id="P2-Sphingobium"><circle class="b" cx="1132" cy="1493" r="11.5"/><text class="lb2" x="1134" y="1473">g_Sphingobium</text></g>
<g id="P2-Herbaspirillum"><circle class="b" cx="1275" cy="1507" r="4"/><text class="lb2" x="1275" y="1486">g__Herbaspirillum</text></g>
<g id="P2-Flavonifractor"><circle class="r" cx="1457" cy="1518" r="4"/><text class="lb2" x="1458" y="1497">g__Flavonifractor</text></g>
<g id="P2-Sphingomonas"><circle class="b" cx="1173" cy="1551" r="6.5"/><text class="lb2" x="1173" y="1529">g__Sphingomonas</text></g>
<g id="P2-Dialister"><circle class="r" cx="1377" cy="1549" r="6.3"/><text class="lb2" x="1378" y="1528">g__Dialister</text></g>
<g id="P2-Phascolarctobacterium"><circle class="r" cx="1301" cy="1591" r="3.5"/><text class="lb2" x="1301" y="1569">g__Phascolarctobacterium</text></g>
<g id="P2-Clostridium"><circle class="r" cx="1333" cy="1640" r="6.5"/><text class="lb2" x="1332" y="1618">g__Clostridium_sensu_stricto_1</text></g>
<g id="P2-Romboutsia"><circle class="r" cx="1248" cy="1664" r="7.5"/><text class="lb2" x="1248" y="1643">g__Romboutsia</text></g>
<g id="P2-legend">
<circle class="r" cx="1764" cy="1281" r="7"/><text class="lg" x="1776" y="1285.5">p__Firmicutes</text>
<circle class="b" cx="1764" cy="1303" r="7"/><text class="lg" x="1776" y="1307.5">p__Proteobacteria</text>
<line class="neg ll" x1="1757" y1="1531" x2="1772" y2="1531"/><text class="lg" x="1776" y="1535.5">negative</text>
<line class="pos ll" x1="1757" y1="1553" x2="1772" y2="1553"/><text class="lg" x="1776" y="1557.5">positive</text>
</g>
</g>
</svg>
